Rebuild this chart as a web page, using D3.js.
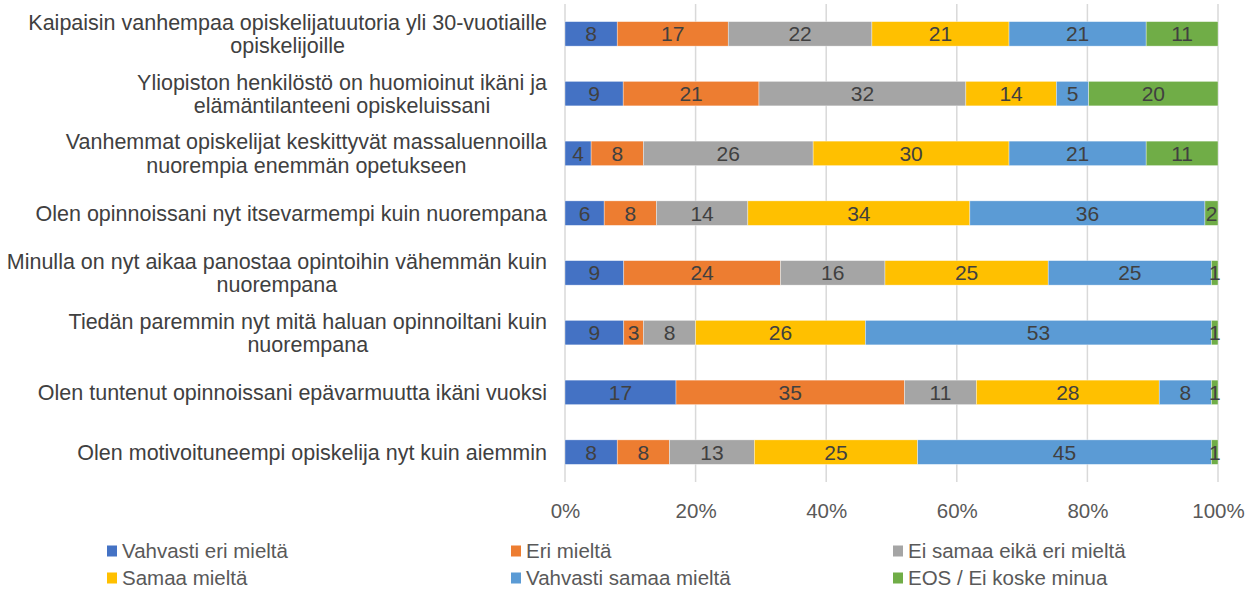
<!DOCTYPE html>
<html>
<head>
<meta charset="utf-8">
<script src="https://cdn.jsdelivr.net/npm/d3@7"></script>
<style>
  html, body { margin: 0; padding: 0; background: #fff; }
  svg { display: block; }
</style>
</head>
<body>
<svg id="chart" width="1257" height="598"></svg>
<script>
// Survey statements (lines split where the label wraps)
const categories = [
  "Kaipaisin vanhempaa opiskelijatuutoria yli 30-vuotiaille\nopiskelijoille",
  "Yliopiston henkilöstö on huomioinut ikäni ja\nelämäntilanteeni opiskeluissani",
  "Vanhemmat opiskelijat keskittyvät massaluennoilla\nnuorempia enemmän opetukseen",
  "Olen opinnoissani nyt itsevarmempi kuin nuorempana",
  "Minulla on nyt aikaa panostaa opintoihin vähemmän kuin\nnuorempana",
  "Tiedän paremmin nyt mitä haluan opinnoiltani kuin\nnuorempana",
  "Olen tuntenut opinnoissani epävarmuutta ikäni vuoksi",
  "Olen motivoituneempi opiskelija nyt kuin aiemmin"
];

const seriesNames = [
  "Vahvasti eri mieltä",
  "Eri mieltä",
  "Ei samaa eikä eri mieltä",
  "Samaa mieltä",
  "Vahvasti samaa mieltä",
  "EOS / Ei koske minua"
];

// Answer shares (%) per statement, one array per answer option
const vahvastiEri   = [8, 9, 4, 6, 9, 9, 17, 8];
const eri           = [17, 21, 8, 8, 24, 3, 35, 8];
const eiSamaaEiEri  = [22, 32, 26, 14, 16, 8, 11, 13];
const samaa         = [21, 14, 30, 34, 25, 26, 28, 25];
const vahvastiSamaa = [21, 5, 21, 36, 25, 53, 8, 45];
const eos           = [11, 20, 11, 2, 1, 1, 1, 1];

const tickLabels = ["0%", "20%", "40%", "60%", "80%", "100%"];

const colors = ["#4472C4", "#ED7D31", "#A5A5A5", "#FFC000", "#5B9BD5", "#70AD47"];

const seriesValues = [vahvastiEri, eri, eiSamaaEiEri, samaa, vahvastiSamaa, eos];

const sansFont = "'Liberation Sans', Arial, sans-serif";

// Build rows for the stack layout; each row is normalised to 100 %
const rows = categories.map((c, i) => {
  const row = { category: c };
  seriesNames.forEach((s, j) => { row[s] = seriesValues[j][i]; });
  return row;
});

const stack = d3.stack().keys(seriesNames).offset(d3.stackOffsetExpand);
const layers = stack(rows);

const svg = d3.select("#chart");
const margin = { left: 565, right: 39, top: 4, bottom: 116 };
const W = 1257, H = 598;

const x = d3.scaleLinear().domain([0, 1]).range([margin.left, W - margin.right]);
const y = d3.scaleBand().domain(categories).range([margin.top, H - margin.bottom]).paddingInner(0.59).paddingOuter(0.295);

// Vertical gridlines
svg.append("g")
  .selectAll("line")
  .data(d3.range(0, 1.0001, 0.2))
  .join("line")
  .attr("x1", d => x(d)).attr("x2", d => x(d))
  .attr("y1", margin.top).attr("y2", H - margin.bottom)
  .attr("stroke", "#d9d9d9")
  .attr("stroke-width", 1.5);

// Stacked bars
const layerG = svg.append("g")
  .selectAll("g")
  .data(layers)
  .join("g")
  .attr("fill", (d, i) => colors[i]);

layerG.selectAll("rect")
  .data(d => d)
  .join("rect")
  .attr("x", d => x(d[0]))
  .attr("y", d => y(d.data.category))
  .attr("width", d => x(d[1]) - x(d[0]))
  .attr("height", y.bandwidth())
  .attr("stroke", "#ffffff")
  .attr("stroke-width", 0.6)
  .attr("stroke-opacity", 0.6);

// Value labels centred in each segment
const labelG = svg.append("g");
layers.forEach((layer, j) => {
  layer.forEach((d, i) => {
    labelG.append("text")
      .attr("x", (x(d[0]) + x(d[1])) / 2)
      .attr("y", y(d.data.category) + y.bandwidth() / 2)
      .attr("dy", "0.36em")
      .attr("text-anchor", "middle")
      .style("font-family", sansFont)
      .attr("font-size", 21)
      .attr("fill", "#404040")
      .text(seriesValues[j][i]);
  });
});

// Category labels: right-aligned block, lines centred within it
const catG = svg.append("g");
const labelRight = 547;
const lineH = 23.5;
categories.forEach(c => {
  const lines = c.split("\n");
  const cy = y(c) + y.bandwidth() / 2;
  const t = catG.append("text")
    .style("font-family", sansFont)
    .attr("font-size", 21.5)
    .attr("fill", "#404040");
  const spans = lines.map((ln, k) => t.append("tspan")
    .attr("y", cy + (k - (lines.length - 1) / 2) * lineH)
    .attr("dy", "0.36em")
    .attr("text-anchor", "middle")
    .text(ln));
  const widths = spans.map(s => s.node().getComputedTextLength());
  const maxW = d3.max(widths);
  spans.forEach(s => s.attr("x", labelRight - maxW / 2));
});

// Percentage axis
const axis = d3.axisBottom(x).tickValues(d3.range(0, 1.0001, 0.2)).tickFormat((d, i) => tickLabels[i]).tickSize(0).tickPadding(0);
const axisG = svg.append("g")
  .attr("transform", `translate(0, ${H - margin.bottom + 29})`)
  .call(axis);
axisG.select(".domain").remove();
axisG.selectAll("text")
  .style("font-family", sansFont)
  .attr("font-size", 20.5)
  .attr("fill", "#595959")
  .attr("dy", "0.36em");

// Legend, three columns by two rows
const legendCols = [107, 511, 893];
const legendRows = [551, 578];
const legend = svg.append("g");
seriesNames.forEach((s, i) => {
  const lx = legendCols[i % 3];
  const ly = legendRows[Math.floor(i / 3)];
  legend.append("rect")
    .attr("x", lx).attr("y", ly - 5.5)
    .attr("width", 10).attr("height", 11)
    .attr("fill", colors[i]);
  legend.append("text")
    .attr("x", lx + 15)
    .attr("y", ly)
    .attr("dy", "0.36em")
    .style("font-family", sansFont)
    .attr("font-size", 20.5)
    .attr("fill", "#595959")
    .text(s);
});
</script>
</body>
</html>
